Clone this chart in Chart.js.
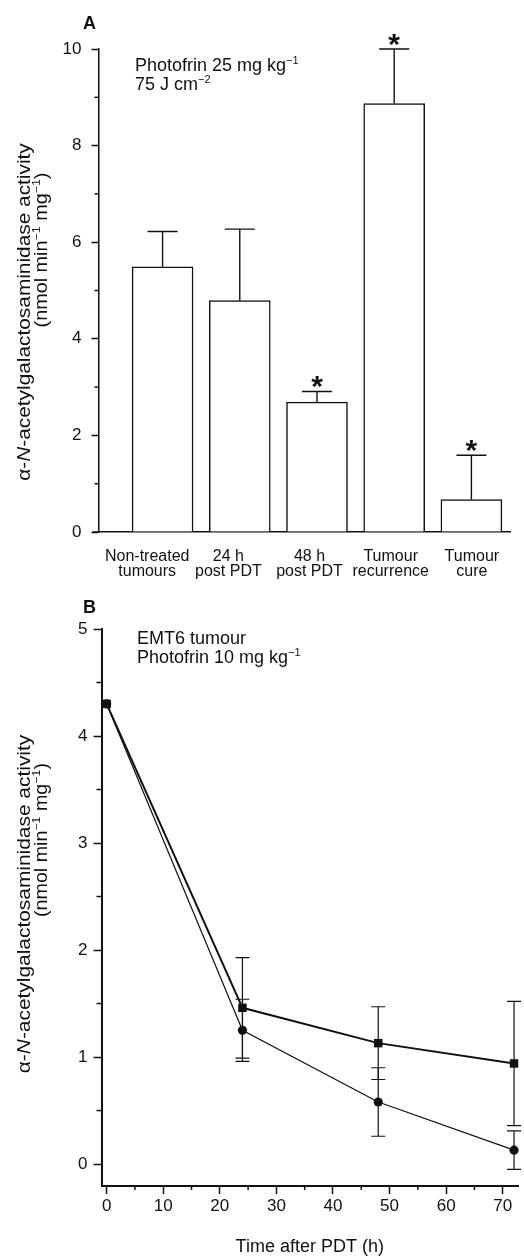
<!DOCTYPE html>
<html>
<head>
<meta charset="utf-8">
<script src="https://cdn.jsdelivr.net/npm/chart.js@4.4.1/dist/chart.umd.min.js"></script>
<style>
body { margin: 0; background: #fff; width: 524px; height: 1258px; position: relative; overflow: hidden;
       font-family: "Liberation Sans", Arial, Helvetica, sans-serif; color: #111; }
canvas { position: absolute; left: 0; }
.t { position: absolute; white-space: nowrap; line-height: 1; font-size: 18px; }
.t sup, .yt sup { font-size: 11px; position: relative; top: -7px; vertical-align: baseline; line-height: 0; }
.yt { position: absolute; white-space: nowrap; line-height: 1; font-size: 17.5px; }
</style>
</head>
<body>
<canvas id="chartA" width="524" height="582" style="top:0"></canvas>
<canvas id="chartB" width="524" height="668" style="top:590px"></canvas>

<div class="t" style="left:83px;top:14px;font-weight:bold">A</div>
<div class="t" style="left:135px;top:56px">Photofrin 25 mg kg<sup>−1</sup></div>
<div class="t" style="left:135px;top:75px">75 J cm<sup>−2</sup></div>
<div class="yt" data-len="337" style="left:25px;top:312px">α-<i>N</i>-acetylgalactosaminidase activity</div>
<div class="yt" data-len="155" style="left:42px;top:250px">(nmol min<sup>−1</sup> mg<sup>−1</sup>)</div>

<div class="t" style="left:83px;top:598px;font-weight:bold">B</div>
<div class="t" style="left:137px;top:629px">EMT6 tumour</div>
<div class="t" style="left:137px;top:648px">Photofrin 10 mg kg<sup>−1</sup></div>
<div class="yt" data-len="338" style="left:25px;top:904px">α-<i>N</i>-acetylgalactosaminidase activity</div>
<div class="yt" data-len="154" style="left:42px;top:840px">(nmol min<sup>−1</sup> mg<sup>−1</sup>)</div>

<script>
// Panel A - bars
const catLabels = [['Non-treated', 'tumours'], ['24 h', 'post PDT'], ['48 h', 'post PDT'], ['Tumour', 'recurrence'], ['Tumour', 'cure']];
const barMeans = [5.49, 4.79, 2.69, 8.87, 0.67];
const barSem = [0.73, 1.48, 0.22, 1.13, 0.92];
const barStars = [false, false, true, true, true];
const yTicksA = [0, 2, 4, 6, 8, 10];
const yMinorA = [1, 3, 5, 7, 9];

// Panel B - time course
const hours = [0, 24, 48, 72];
const squareMeans = [4.3, 1.46, 1.13, 0.94];
const squareSem = [0, 0.47, 0.34, 0.58];
const circleMeans = [4.3, 1.25, 0.58, 0.13];
const circleSem = [0, 0.29, 0.32, 0.18];
const xTicksB = [0, 10, 20, 30, 40, 50, 60, 70];
const xMinorB = [5, 15, 25, 35, 45, 55, 65];
const yTicksB = [0, 1, 2, 3, 4, 5];
const yMinorB = [0.5, 1.5, 2.5, 3.5, 4.5];

const ink = '#111';
const fontFamily = '"Liberation Sans", Arial, Helvetica, sans-serif';

// fit the rotated y titles to their length in the picture
document.querySelectorAll('.yt').forEach(el => {
    const k = (+el.dataset.len) / el.offsetWidth;
    el.style.transform = `translate(-50%,-50%) rotate(-90deg) scaleX(${k})`;
});

const errorBars = {
    id: 'errorBars',
    afterDatasetsDraw(chart, args, opts) {
        const ctx = chart.ctx;
        ctx.save();
        ctx.strokeStyle = ink;
        ctx.fillStyle = ink;
        ctx.lineWidth = opts.width;
        opts.sets.forEach(set => {
            const meta = chart.getDatasetMeta(set.dataset);
            const yScale = chart.scales[meta.yAxisID];
            const values = chart.data.datasets[set.dataset].data;
            meta.data.forEach((el, i) => {
                const e = set.err[i];
                if (!e) return;
                const v = values[i].y;
                const x = el.x;
                const yTop = yScale.getPixelForValue(v + e);
                const yBot = set.both ? yScale.getPixelForValue(v - e) : el.y;
                ctx.beginPath();
                ctx.moveTo(x, yBot);
                ctx.lineTo(x, yTop);
                ctx.moveTo(x - opts.cap, yTop);
                ctx.lineTo(x + opts.cap, yTop);
                if (set.both) {
                    ctx.moveTo(x - opts.cap, yBot);
                    ctx.lineTo(x + opts.cap, yBot);
                }
                ctx.stroke();
                if (set.stars && set.stars[i]) {
                    ctx.font = 'bold 30px ' + fontFamily;
                    ctx.textAlign = 'center';
                    ctx.textBaseline = 'alphabetic';
                    ctx.fillText('*', x, yTop + 5);
                }
            });
        });
        ctx.restore();
    }
};

const minorTicks = {
    id: 'minorTicks',
    afterDraw(chart, args, opts) {
        const ctx = chart.ctx;
        ctx.save();
        ctx.strokeStyle = ink;
        ctx.lineWidth = opts.width;
        opts.list.forEach(m => {
            const s = chart.scales[m.axis];
            m.values.forEach(v => {
                const p = s.getPixelForValue(v);
                ctx.beginPath();
                if (s.isHorizontal()) {
                    ctx.moveTo(p, s.top);
                    ctx.lineTo(p, s.top + m.len);
                } else {
                    ctx.moveTo(s.right, p);
                    ctx.lineTo(s.right - m.len, p);
                }
                ctx.stroke();
            });
        });
        if (opts.extendLeft) {
            const a = chart.chartArea;
            ctx.beginPath();
            ctx.moveTo(a.left - opts.extendLeft, a.bottom);
            ctx.lineTo(a.left, a.bottom);
            ctx.stroke();
        }
        ctx.restore();
    }
};

Chart.register(errorBars, minorTicks);

// Panel A
new Chart(document.getElementById('chartA'), {
    type: 'bar',
    data: {
        datasets: [{
            data: barMeans.map((v, i) => ({ x: i, y: v })),
            backgroundColor: '#fff',
            borderColor: ink,
            borderWidth: 1.5,
            barThickness: 61,
            xAxisID: 'x',
            yAxisID: 'y'
        }]
    },
    options: {
        responsive: false,
        animation: false,
        layout: { padding: { top: 49, right: 14, left: 0, bottom: 0 } },
        plugins: {
            legend: { display: false },
            tooltip: { enabled: false },
            errorBars: { width: 1.4, cap: 15, sets: [{ dataset: 0, err: barSem, both: false, stars: barStars }] },
            minorTicks: { width: 1.5, extendLeft: 6, list: [{ axis: 'y', values: yMinorA, len: 4 }] }
        },
        scales: {
            x: {
                type: 'linear',
                min: -0.83,
                max: 4.5,
                offset: false,
                weight: 0,
                grid: { display: false, offset: false },
                border: { display: true, color: ink, width: 1.5 },
                ticks: { display: false },
                afterFit: s => { s.height = 0; }
            },
            xl: {
                type: 'linear',
                position: 'bottom',
                min: -0.6,
                max: 4.47,
                offset: false,
                weight: 1,
                grid: { display: false, offset: false },
                border: { display: false },
                afterBuildTicks: s => { s.ticks = catLabels.map((_, i) => ({ value: i })); },
                ticks: {
                    color: ink,
                    padding: 9,
                    maxRotation: 0,
                    autoSkip: false,
                    font: { family: fontFamily, size: 16, lineHeight: 0.95 },
                    callback: v => catLabels[v]
                },
                afterFit: s => { s.height = 50; }
            },
            y: {
                min: 0,
                max: 10,
                grid: { drawOnChartArea: false, tickLength: 7, tickWidth: 1.5, tickColor: ink },
                border: { display: true, color: ink, width: 1.5 },
                afterBuildTicks: s => { s.ticks = yTicksA.map(v => ({ value: v })); },
                ticks: { color: ink, padding: 10, font: { family: fontFamily, size: 17 } },
                afterFit: s => { s.width = 98.5; }
            }
        }
    }
});

// Panel B
new Chart(document.getElementById('chartB'), {
    type: 'line',
    data: {
        datasets: [
            {
                data: hours.map((h, i) => ({ x: h, y: squareMeans[i] })),
                borderColor: ink,
                backgroundColor: ink,
                borderWidth: 2,
                pointStyle: 'rect',
                pointRadius: 6,
                pointBorderWidth: 0,
                tension: 0,
                clip: false
            },
            {
                data: hours.map((h, i) => ({ x: h, y: circleMeans[i] })),
                borderColor: ink,
                backgroundColor: ink,
                borderWidth: 1.2,
                pointStyle: 'circle',
                pointRadius: 4.6,
                pointBorderWidth: 0,
                tension: 0,
                clip: false
            }
        ]
    },
    options: {
        responsive: false,
        animation: false,
        layout: { padding: { top: 39, right: 2, left: 0, bottom: 0 } },
        plugins: {
            legend: { display: false },
            tooltip: { enabled: false },
            errorBars: {
                width: 1.2, cap: 7,
                sets: [
                    { dataset: 0, err: squareSem, both: true },
                    { dataset: 1, err: circleSem, both: true }
                ]
            },
            minorTicks: {
                width: 1.5,
                list: [
                    { axis: 'x', values: xMinorB, len: 4 },
                    { axis: 'y', values: yMinorB, len: 5 }
                ]
            }
        },
        scales: {
            x: {
                type: 'linear',
                min: -0.91,
                max: 72.7,
                grid: { drawOnChartArea: false, tickLength: 8, tickWidth: 1.5, tickColor: ink },
                border: { display: true, color: ink, width: 2 },
                afterBuildTicks: s => { s.ticks = xTicksB.map(v => ({ value: v })); },
                ticks: { color: ink, padding: 2, maxRotation: 0, font: { family: fontFamily, size: 17 } },
                title: { display: true, text: 'Time after PDT (h)', color: ink, padding: { top: 0, bottom: 0 },
                         font: { family: fontFamily, size: 18 } },
                afterFit: s => { s.height = 72; }
            },
            y: {
                min: -0.205,
                max: 5,
                grid: { drawOnChartArea: false, tickLength: 8, tickWidth: 1.5, tickColor: ink },
                border: { display: true, color: ink, width: 2 },
                afterBuildTicks: s => { s.ticks = yTicksB.map(v => ({ value: v })); },
                ticks: { color: ink, padding: 6, font: { family: fontFamily, size: 17 } },
                afterFit: s => { s.width = 101.5; }
            }
        }
    }
});
</script>
</body>
</html>
